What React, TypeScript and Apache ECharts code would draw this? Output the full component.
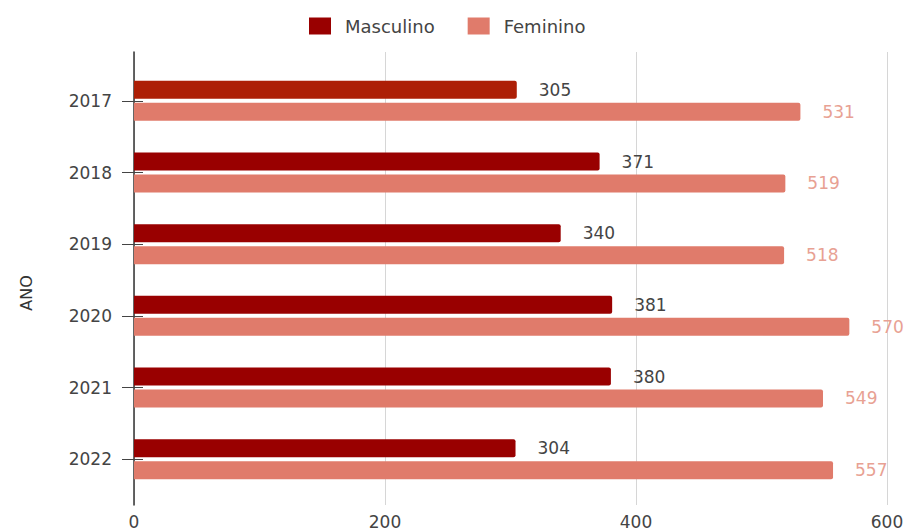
import React, { useEffect, useRef } from "react";
import * as echarts from "echarts";

// Number of people per year, split by sex
const years = ["2017", "2018", "2019", "2020", "2021", "2022"];
const masculino = [305, 371, 340, 381, 380, 304];
const feminino = [531, 519, 518, 570, 549, 557];
const xTicks = [0, 200, 400, 600];

const FONT = "DejaVu Sans";
const MASC_COLOR = "#990000";
const MASC_FIRST_COLOR = "#ad1f06";
const FEM_COLOR = "#e07b6b";

export default function App() {
  const ref = useRef<HTMLDivElement>(null);

  useEffect(() => {
    document.body.style.margin = "0";
    if (!ref.current) return;
    const chart = echarts.init(ref.current, undefined, { renderer: "svg" });
    const xMin = xTicks[0];
    const xMax = xTicks[xTicks.length - 1];
    const xStep = xTicks[1] - xTicks[0];

    chart.setOption({
      animation: false,
      backgroundColor: "#ffffff",
      textStyle: { fontFamily: FONT },
      legend: {
        left: 304,
        top: 12,
        itemWidth: 22,
        itemHeight: 17,
        itemGap: 33,
        icon: "rect",
        textStyle: { color: "#444", fontSize: 18, fontFamily: FONT, padding: [0, 0, 0, 9] },
        data: ["Masculino", "Feminino"],
      },
      grid: [
        // bar layout area
        { left: 134, right: 20, top: 65, bottom: 37 },
        // frame: y axis line, vertical grid lines and x labels
        { left: 134, right: 20, top: 52, bottom: 27 },
      ],
      xAxis: [
        { type: "value", gridIndex: 0, min: xMin, max: xMax, interval: xStep, show: false },
        {
          type: "value",
          gridIndex: 1,
          min: xMin,
          max: xMax,
          interval: xStep,
          axisLine: { show: false },
          axisTick: { show: false },
          splitLine: { show: true, lineStyle: { color: "#d6d6d6", width: 1 } },
          axisLabel: { color: "#444", fontSize: 17, fontFamily: FONT, margin: 8 },
        },
      ],
      yAxis: [
        {
          type: "category",
          gridIndex: 0,
          data: years,
          inverse: true,
          position: "left",
          axisLine: { show: false },
          axisTick: { show: true, alignWithLabel: true, length: 12, lineStyle: { color: "#444" } },
          axisLabel: { color: "#444", fontSize: 17, fontFamily: FONT, margin: 22 },
          splitLine: { show: false },
        },
        {
          type: "category",
          gridIndex: 0,
          data: years,
          inverse: true,
          position: "left",
          axisLine: { show: false },
          axisTick: { show: true, inside: true, alignWithLabel: true, length: 9, lineStyle: { color: "#444" } },
          axisLabel: { show: false },
          splitLine: { show: false },
        },
        {
          type: "value",
          gridIndex: 1,
          min: 0,
          max: 1,
          position: "left",
          axisLine: { show: true, lineStyle: { color: "#333", width: 1.5 } },
          axisTick: { show: false },
          axisLabel: { show: false },
          splitLine: { show: false },
        },
      ],
      graphic: [
        {
          type: "text",
          x: 26,
          y: 293,
          rotation: Math.PI / 2,
          style: {
            text: "ANO",
            fill: "#333",
            fontSize: 16,
            fontFamily: FONT,
            align: "center",
            verticalAlign: "middle",
          },
        },
      ],
      series: [
        {
          name: "Masculino",
          type: "bar",
          xAxisIndex: 0,
          yAxisIndex: 0,
          barWidth: 18,
          barGap: "22%",
          itemStyle: { color: MASC_COLOR, borderRadius: [0, 2, 2, 0] },
          data: masculino.map((v, i) =>
            i === 0 ? { value: v, itemStyle: { color: MASC_FIRST_COLOR } } : v
          ),
          label: {
            show: true,
            position: "right",
            distance: 22,
            color: "#444",
            fontSize: 17,
            fontFamily: FONT,
          },
        },
        {
          name: "Feminino",
          type: "bar",
          xAxisIndex: 0,
          yAxisIndex: 0,
          barWidth: 18,
          barGap: "22%",
          itemStyle: { color: FEM_COLOR, borderRadius: [0, 2, 2, 0] },
          data: feminino,
          label: {
            show: true,
            position: "right",
            distance: 22,
            color: "#e8a193",
            fontSize: 17,
            fontFamily: FONT,
          },
        },
      ],
    });

    return () => chart.dispose();
  }, []);

  return <div ref={ref} style={{ width: 907, height: 532 }} />;
}
